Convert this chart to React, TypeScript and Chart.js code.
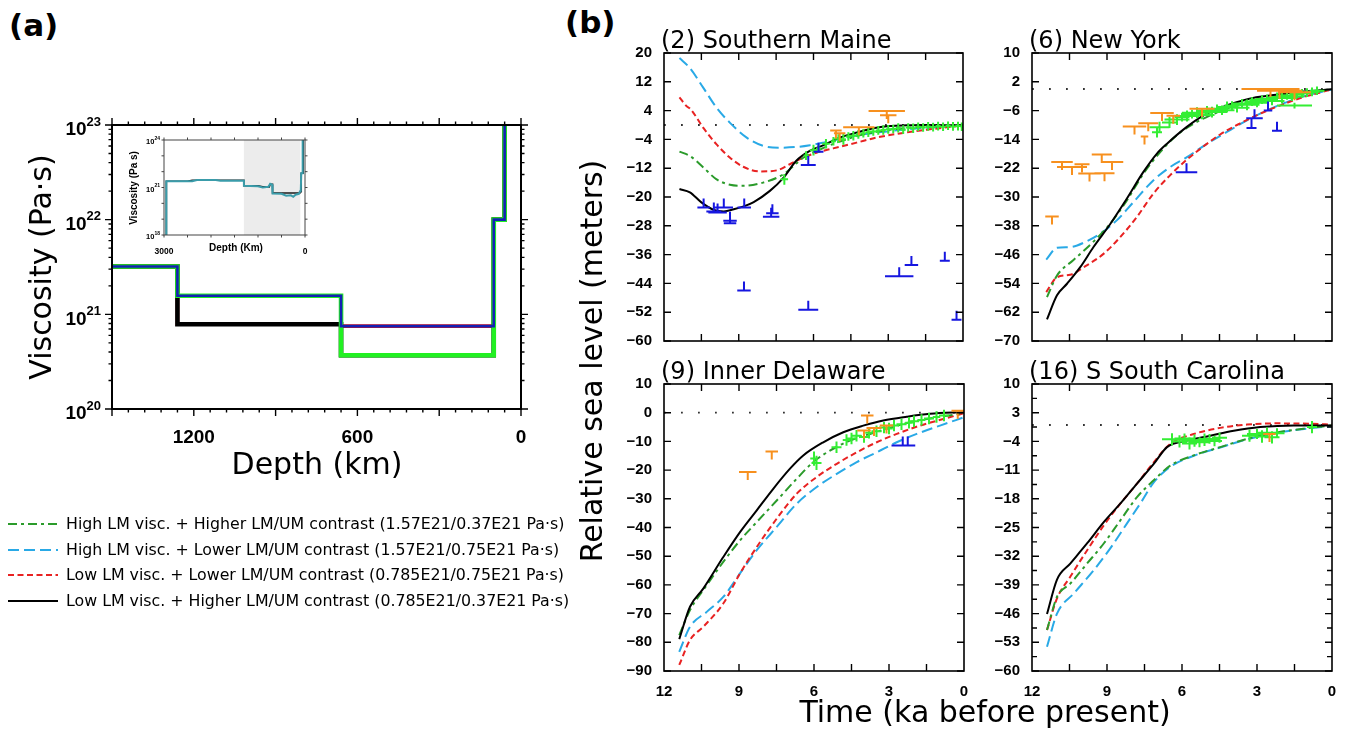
import React, { useEffect, useRef } from 'react';
import { Chart, registerables } from 'chart.js';
Chart.register(...registerables);

const SANS = "'DejaVu Sans', 'Noto Sans', sans-serif";
const HELV = "'Liberation Sans', Arial, sans-serif";

// ---------- colours / styles ----------
const C_GREEN = '#2b9b2b';
const C_BLUE = '#29a9e6';
const C_RED = '#e82222';
const C_BLACK = '#000000';
const C_IDX = '#33ee33';
const C_UPPER = '#f7901e';
const C_LOWER = '#1616e0';
const DASH_GREEN = [9, 4, 3, 4];
const DASH_BLUE = [11, 5];
const DASH_RED = [6, 3.5];

// ---------- panel (a): viscosity profiles ----------
const A_BOUNDS = [1500, 1260, 660, 100, 60]; // km
const A_SURFACE_VISC = 1e23;
const A_VISC_HIGH_HIGHER = [3.2e21, 1.57e21, 0.37e21, 1e22];
const A_VISC_HIGH_LOWER = [3.2e21, 1.57e21, 0.75e21, 1e22];
const A_VISC_LOW_LOWER = [3.2e21, 0.785e21, 0.75e21, 1e22];
const A_VISC_LOW_HIGHER = [3.2e21, 0.785e21, 0.37e21, 1e22];
const A_X_LABELS = [1200, 600, 0];
const A_Y_EXP = [20, 21, 22, 23];

// inset profile (depth km, viscosity)
const INSET_TEAL = [
  [2950, 1e18], [2950, 2.5e21], [2400, 2.5e21], [2300, 3.0e21], [1900, 3.0e21], [1800, 2.7e21],
  [1300, 2.7e21], [1300, 1.3e21], [1000, 1.2e21], [900, 1.0e21], [780, 1.1e21], [740, 1.7e21],
  [700, 1.5e21], [690, 4.2e20], [500, 4.0e20], [400, 3.0e20], [300, 3.2e20], [250, 2.6e20],
  [200, 3.5e20], [130, 4.0e20], [110, 5.5e20], [90, 6e20], [80, 8e21], [50, 8e21], [50, 1e24],
];
const INSET_BLACK = [
  [2950, 1e18], [2950, 2.5e21], [2500, 2.5e21], [2400, 2.9e21], [1300, 2.9e21], [1300, 1.3e21],
  [1000, 1.3e21], [900, 1.1e21], [760, 1.1e21], [740, 1.6e21], [690, 1.6e21], [690, 4.5e20],
  [110, 4.5e20], [110, 5.5e20], [80, 5.5e20], [80, 8e21], [40, 8e21], [40, 1e24],
];
const INSET_SHADE = [1300, 100];
const INSET_X_LABELS = [3000, 0];
const INSET_Y_EXP = [18, 21, 24];

// ---------- panel (b): relative sea level ----------
const B_X_LABELS = [12, 9, 6, 3, 0];
const B_X_TICK_MARKS = [10.5, 9, 7.5, 6, 4.5, 3, 1.5];
const ZERO_LINE_T = [12, 0];

// (2) Southern Maine
const ME_Y_TICKS = [20, 12, 4, -4, -12, -20, -28, -36, -44, -52, -60];
const ME_BLACK = [[11.38, -17.8], [10.96, -18.7], [10.5, -21.5], [10.0, -23.6], [9.6, -24.0], [9.2, -23.4], [8.8, -22.6], [8.4, -21.4], [7.75, -18.3], [7.2, -14.6], [6.7, -10.0], [6.15, -7.2], [5.6, -5.6], [4.95, -3.5], [4.25, -2.1], [3.6, -0.9], [2.95, -0.3], [2.25, -0.1], [1.6, 0], [0, -0.1]];
const ME_BLUE = [[11.38, 18.6], [10.96, 15.8], [10.42, 10.3], [9.89, 4.8], [9.35, 0.6], [8.68, -3.5], [8.02, -5.8], [7.35, -6.3], [6.68, -6.1], [6.14, -5.6], [5.61, -4.9], [4.81, -3.7], [4.01, -2.6], [2.94, -1.7], [1.6, -0.8], [0, -0.1]];
const ME_RED = [[11.38, 7.7], [11.09, 5.2], [10.96, 4.6], [10.42, -0.8], [9.89, -5.4], [9.35, -9.1], [8.82, -11.6], [8.15, -12.9], [7.48, -12.6], [6.95, -10.9], [6.41, -9.1], [5.88, -7.7], [5.21, -6.5], [4.27, -4.9], [3.47, -3.5], [2.4, -2.2], [1.33, -1.2], [0, -0.1]];
const ME_GREEN = [[11.38, -7.4], [10.96, -8.6], [10.42, -11.8], [9.89, -15.1], [9.35, -16.6], [8.82, -16.9], [8.02, -16.0], [7.21, -13.7], [6.41, -9.1], [5.74, -6.8], [5.07, -4.9], [4.27, -3.1], [3.47, -1.9], [2.4, -0.9], [1.06, -0.4], [0, -0.2]];
const ME_UPPER = [[3.06, 3.9, 0.73], [3.0, 2.7, 0.33], [5.1, -1.5, 0.23], [4.18, -0.6, 0.63], [4.95, -2.3, 0.23]];
const ME_LOWER = [[10.41, -22.9, 0.25], [10.0, -24.0, 0.3], [9.85, -24.3, 0.37], [9.6, -22.9, 0.37], [9.35, -26.6, 0.27], [9.35, -27.3, 0.25], [8.78, -22.9, 0.27], [7.7, -25.5, 0.33], [7.65, -24.5, 0.25], [8.79, -46.0, 0.27], [6.21, -51.3, 0.4], [6.21, -11.1, 0.3], [5.8, -7.4, 0.2], [2.56, -42.0, 0.57], [2.07, -38.9, 0.27], [0.73, -37.7, 0.2], [0.26, -54.1, 0.2]];
const ME_INDEX = [[7.17, -15.1, 0.15, 1.5], [6.3, -8.5, 0.1, 1.2], [6.0, -7.0, 0.15, 1.5], [5.8, -6.5, 0.1, 1.3], [5.5, -5.2, 0.15, 1.3], [5.2, -4.5, 0.1, 1.2], [5.0, -3.8, 0.15, 1.2], [4.8, -4.0, 0.1, 1.5], [4.6, -3.2, 0.1, 1.2], [4.4, -3.0, 0.15, 1.3], [4.2, -2.6, 0.1, 1.2], [4.0, -2.3, 0.1, 1.2], [3.8, -2.0, 0.1, 1.3], [3.6, -1.8, 0.15, 1.2], [3.4, -1.5, 0.1, 1.2], [3.2, -1.4, 0.1, 1.3], [3.0, -1.2, 0.1, 1.2], [2.8, -1.1, 0.1, 1.2], [2.6, -0.8, 0.1, 1.3], [2.4, -1.3, 0.1, 1.2], [2.2, -0.7, 0.1, 1.2], [2.0, -0.9, 0.1, 1.3], [1.8, -0.5, 0.1, 1.2], [1.6, -0.7, 0.1, 1.2], [1.4, -0.4, 0.1, 1.2], [1.2, -0.6, 0.1, 1.2], [1.0, -0.3, 0.1, 1.2], [0.8, -0.5, 0.1, 1.2], [0.6, -0.2, 0.1, 1.2], [0.4, -0.4, 0.1, 1.2], [0.2, -0.3, 0.1, 1.2], [0.05, -0.5, 0.05, 1.2]];

// (6) New York
const NY_Y_TICKS = [10, 2, -6, -14, -22, -30, -38, -46, -54, -62, -70];
const NY_BLACK = [[11.4, -64.0], [11.0, -57.3], [10.6, -54.1], [10.07, -49.5], [9.54, -43.9], [8.87, -37.5], [8.21, -30.5], [7.55, -23.1], [7.01, -18.0], [6.6, -15.2], [5.82, -10.6], [5.15, -7.4], [4.49, -5.3], [3.82, -3.7], [3.16, -2.5], [2.23, -1.6], [1.3, -0.8], [0, -0.1]];
const NY_GREEN = [[11.4, -57.8], [11.0, -51.8], [10.34, -47.5], [9.54, -42.4], [8.87, -37.4], [8.21, -31.0], [7.55, -23.6], [6.88, -17.6], [6.22, -12.9], [5.55, -9.7], [4.89, -7.4], [4.22, -5.5], [3.42, -4.0], [2.49, -2.5], [1.56, -1.4], [0, -0.1]];
const NY_RED = [[11.43, -56.4], [11.0, -52.3], [10.47, -51.6], [9.81, -49.0], [9.14, -45.8], [8.48, -41.2], [7.81, -35.6], [7.15, -29.1], [6.48, -24.0], [5.82, -19.7], [5.15, -16.0], [4.49, -12.7], [3.69, -9.6], [2.89, -6.9], [2.09, -4.6], [1.16, -2.3], [0, -0.1]];
const NY_BLUE = [[11.43, -47.4], [11.0, -44.1], [10.47, -43.9], [9.81, -42.3], [9.27, -40.2], [8.61, -36.5], [7.94, -31.4], [7.15, -25.4], [6.48, -21.7], [5.82, -19.0], [5.02, -15.3], [4.22, -12.0], [3.42, -8.8], [2.62, -6.0], [1.83, -3.7], [0.9, -1.6], [0, -0.1]];
const NY_UPPER = [[10.8, -20.3, 0.43], [10.4, -21.7, 0.6], [10.0, -20.9, 0.3], [9.7, -23.5, 0.45], [9.1, -23.4, 0.4], [9.21, -18.2, 0.4], [8.8, -20.3, 0.45], [11.2, -35.4, 0.27], [7.9, -10.4, 0.47], [7.35, -9.5, 0.4], [7.5, -13.2, 0.15], [6.8, -6.7, 0.47], [6.35, -7.4, 0.27], [5.2, -5.5, 0.5], [2.46, 0.0, 1.16], [2.1, -0.5, 0.9], [1.5, -0.9, 0.66]];
const NY_LOWER = [[5.82, -23.1, 0.43], [3.1, -8.1, 0.33], [3.22, -10.8, 0.2], [2.56, -6.0, 0.17], [2.2, -11.6, 0.2]];
const NY_INDEX = [[7.0, -12.0, 0.2, 1.5], [6.9, -10.6, 0.4, 1.5], [6.5, -9.3, 0.3, 1.5], [6.2, -8.5, 0.5, 1.5], [6.0, -7.8, 0.3, 1.2], [5.8, -7.5, 0.5, 1.5], [5.6, -7.0, 0.4, 1.2], [5.4, -6.6, 0.6, 1.5], [5.2, -7.2, 0.5, 1.2], [5.0, -6.0, 0.4, 1.3], [4.8, -6.4, 0.6, 1.5], [4.6, -5.5, 0.4, 1.2], [4.4, -5.9, 0.5, 1.3], [4.2, -5.0, 0.4, 1.5], [4.0, -4.6, 0.3, 1.2], [3.8, -5.2, 0.5, 1.3], [3.6, -4.0, 0.4, 1.2], [3.4, -4.4, 0.5, 1.5], [3.2, -3.5, 0.3, 1.2], [3.0, -3.8, 0.4, 1.3], [2.8, -3.0, 0.5, 1.2], [2.6, -2.8, 0.4, 1.3], [2.4, -3.3, 0.5, 1.2], [2.2, -2.2, 0.3, 1.2], [2.0, -2.5, 0.6, 1.5], [1.8, -1.8, 0.4, 1.2], [1.6, -2.0, 0.5, 1.3], [1.5, -4.6, 0.7, 0.8], [1.4, -1.4, 0.3, 1.2], [1.2, -1.2, 0.4, 1.2], [1.0, -1.0, 0.4, 1.2], [0.8, -0.8, 0.3, 1.2], [0.6, -0.5, 0.3, 1.2]];

// (9) Inner Delaware
const DE_Y_TICKS = [10, 0, -10, -20, -30, -40, -50, -60, -70, -80, -90];
const DE_BLACK = [[11.39, -78.9], [10.96, -67.6], [10.43, -61.3], [9.63, -50.3], [8.96, -41.6], [8.29, -34.0], [7.63, -26.5], [6.96, -19.5], [6.43, -14.9], [5.63, -10.3], [4.83, -6.8], [4.03, -4.5], [3.23, -2.7], [2.29, -1.4], [1.36, -0.4], [0, 0.2]];
const DE_GREEN = [[11.39, -77.5], [10.96, -68.8], [10.29, -60.1], [9.63, -52.0], [8.96, -44.5], [8.29, -38.1], [7.49, -30.6], [6.69, -23.0], [6.03, -17.2], [5.36, -13.2], [4.56, -9.7], [3.76, -7.4], [2.96, -5.3], [2.16, -3.3], [1.23, -1.8], [0, -0.2]];
const DE_RED = [[11.39, -87.9], [10.96, -79.2], [10.43, -74.6], [9.63, -66.5], [8.96, -56.0], [8.29, -46.8], [7.49, -36.9], [6.69, -28.2], [5.89, -22.4], [5.09, -17.8], [4.29, -13.8], [3.49, -10.3], [2.69, -7.4], [1.76, -4.5], [0.83, -2.2], [0, -0.2]];
const DE_BLUE = [[11.39, -83.3], [10.96, -74.6], [10.29, -69.4], [9.63, -64.2], [8.96, -56.0], [8.29, -47.9], [7.49, -39.8], [6.69, -31.7], [5.89, -25.9], [5.09, -21.3], [4.29, -17.2], [3.49, -13.8], [2.69, -10.3], [1.89, -7.4], [0.96, -4.5], [0, -1.6]];
const DE_UPPER = [[8.65, -20.7, 0.35], [7.69, -13.5, 0.25], [3.87, -1.0, 0.25], [4.0, -6.2, 0.27], [3.6, -5.3, 0.3], [3.1, -4.5, 0.27], [0.25, 0.7, 0.25]];
const DE_LOWER = [[2.45, -11.4, 0.45], [2.25, -11.4, 0.3]];
const DE_INDEX = [[6.0, -16.0, 0.15, 2.5], [5.9, -17.5, 0.2, 2.5], [5.1, -12.0, 0.2, 2.0], [4.7, -9.5, 0.15, 2.0], [4.5, -9.0, 0.2, 2.0], [4.3, -8.0, 0.2, 2.0], [4.0, -8.5, 0.2, 2.0], [3.8, -7.0, 0.15, 2.0], [3.5, -6.5, 0.2, 2.0], [3.2, -5.2, 0.2, 2.0], [3.0, -5.5, 0.15, 2.0], [2.8, -4.5, 0.2, 2.0], [2.5, -4.0, 0.2, 2.0], [2.2, -3.5, 0.15, 2.0], [2.0, -3.0, 0.2, 2.0], [1.7, -2.5, 0.15, 2.0], [1.4, -2.0, 0.2, 2.0], [1.1, -1.5, 0.15, 2.0], [0.8, -1.0, 0.2, 2.0]];

// (16) S South Carolina
const SC_Y_TICKS = [10, 3, -4, -11, -18, -25, -32, -39, -46, -53, -60];
const SC_Y_MINOR = [6.5, -0.5, -7.5, -14.5, -21.5, -28.5, -35.5, -42.5, -49.5, -56.5];
const SC_BLACK = [[11.4, -46.1], [11.0, -37.7], [10.47, -33.8], [9.8, -28.9], [9.13, -23.7], [8.47, -19.2], [7.8, -14.3], [7.13, -9.5], [6.6, -5.4], [5.8, -3.8], [4.87, -2.6], [3.93, -1.4], [2.87, -0.5], [1.53, -0.1], [0, -0.1]];
const SC_RED = [[11.4, -50.0], [11.0, -42.3], [10.47, -37.0], [9.8, -30.6], [9.13, -24.5], [8.47, -19.2], [7.8, -14.3], [7.13, -9.1], [6.47, -4.6], [5.53, -2.2], [4.47, -0.7], [3.4, 0.1], [2.2, 0.4], [0.87, 0.3], [0, 0.1]];
const SC_GREEN = [[11.4, -50.0], [11.0, -41.9], [10.47, -38.7], [9.8, -33.8], [9.13, -28.9], [8.47, -23.3], [7.8, -17.6], [7.13, -13.5], [6.47, -9.9], [5.53, -7.4], [4.47, -5.4], [3.4, -3.4], [2.2, -1.8], [0.87, -0.7], [0, -0.1]];
const SC_BLUE = [[11.4, -54.1], [11.0, -46.0], [10.33, -41.1], [9.53, -35.4], [8.87, -30.1], [8.2, -24.0], [7.6, -18.5], [7.13, -14.0], [6.47, -10.2], [5.53, -7.5], [4.47, -5.5], [3.4, -3.5], [2.2, -1.9], [0.87, -0.8], [0, -0.3]];
const SC_UPPER = [[2.5, -2.2, 0.25]];
const SC_LOWER: number[][] = [];
const SC_INDEX = [[6.4, -3.5, 0.4, 1.5], [6.1, -4.0, 0.3, 1.5], [5.9, -3.3, 0.4, 1.2], [5.7, -4.5, 0.3, 1.5], [5.5, -3.8, 0.5, 1.5], [5.3, -4.2, 0.4, 1.2], [5.1, -3.6, 0.3, 1.5], [4.9, -3.4, 0.4, 1.2], [4.7, -3.9, 0.3, 1.3], [4.5, -3.1, 0.3, 1.2], [3.3, -2.6, 0.3, 1.5], [3.0, -2.2, 0.4, 1.2], [2.8, -2.8, 0.3, 1.5], [2.6, -1.9, 0.4, 1.3], [2.4, -3.0, 0.3, 1.5], [2.2, -2.0, 0.3, 1.2], [0.8, -0.5, 0.2, 1.5]];

// ---------- legend ----------
const LEGEND_LABELS = [
  'High LM visc. + Higher LM/UM contrast (1.57E21/0.37E21 Pa·s)',
  'High LM visc. + Lower LM/UM contrast (1.57E21/0.75E21 Pa·s)',
  'Low LM visc. + Lower LM/UM contrast (0.785E21/0.75E21 Pa·s)',
  'Low LM visc. + Higher LM/UM contrast (0.785E21/0.37E21 Pa·s)',
];
const LEGEND_COLORS = [C_GREEN, C_BLUE, C_RED, C_BLACK];
const LEGEND_DASH = [DASH_GREEN, DASH_BLUE, DASH_RED, []];

// ---------- helpers ----------
const fmtNum = (v: number) => (v < 0 ? '\u2212' + Math.abs(v) : String(v));

function ChartBox(props: { left: number; top: number; width: number; height: number; make: () => any }) {
  const ref = useRef<HTMLCanvasElement>(null);
  useEffect(() => {
    const chart = new Chart(ref.current as HTMLCanvasElement, props.make());
    return () => chart.destroy();
  }, []);
  return (
    <canvas
      ref={ref}
      width={props.width}
      height={props.height}
      style={{ position: 'absolute', left: props.left, top: props.top, width: props.width, height: props.height }}
    />
  );
}

function stepPoints(visc: number[]) {
  const pts: { x: number; y: number }[] = [];
  for (let i = 0; i < visc.length; i++) {
    pts.push({ x: A_BOUNDS[i], y: visc[i] });
    pts.push({ x: A_BOUNDS[i + 1], y: visc[i] });
  }
  pts.push({ x: A_BOUNDS[A_BOUNDS.length - 1], y: A_SURFACE_VISC });
  return pts;
}

function drawPow(ctx: CanvasRenderingContext2D, e: number, xr: number, py: number, big: number, small: number, dy1: number, dy2: number) {
  ctx.font = `bold ${small}px ${HELV}`;
  const sup = String(e);
  const sw = ctx.measureText(sup).width;
  ctx.textAlign = 'left';
  ctx.textBaseline = 'middle';
  ctx.fillText(sup, xr - sw, py + dy2);
  ctx.font = `bold ${big}px ${HELV}`;
  ctx.textAlign = 'right';
  ctx.fillText('10', xr - sw, py + dy1);
}

function configA() {
  const ds = (visc: number[], color: string, w: number) => ({
    data: stepPoints(visc), borderColor: color, borderWidth: w, pointRadius: 0, fill: false, tension: 0,
  });
  const frameA = {
    id: 'frameA',
    afterDraw(chart: any) {
      const { ctx, chartArea: a, scales } = chart;
      const x = scales.x, y = scales.y;
      ctx.save();
      ctx.strokeStyle = '#000';
      ctx.lineWidth = 2;
      ctx.strokeRect(a.left, a.top, a.right - a.left, a.bottom - a.top);
      ctx.lineWidth = 1.4;
      ctx.beginPath();
      for (let d = 0; d <= 1500; d += 60) {
        const px = x.getPixelForValue(d);
        const len = d % 300 === 0 ? 7 : 3.5;
        ctx.moveTo(px, a.bottom); ctx.lineTo(px, a.bottom + len);
        ctx.moveTo(px, a.top); ctx.lineTo(px, a.top - len);
      }
      for (const e of A_Y_EXP) {
        for (let m = 1; m <= 9; m++) {
          if (e === 23 && m > 1) break;
          const py = y.getPixelForValue(m * Math.pow(10, e));
          const len = m === 1 ? 7 : 3.5;
          ctx.moveTo(a.left, py); ctx.lineTo(a.left - len, py);
          ctx.moveTo(a.right, py); ctx.lineTo(a.right + len, py);
        }
      }
      ctx.stroke();
      ctx.fillStyle = '#000';
      for (const e of A_Y_EXP) {
        drawPow(ctx, e, a.left - 11, y.getPixelForValue(Math.pow(10, e)), 19, 13, 5, -3);
      }
      ctx.restore();
    },
  };
  return {
    type: 'line',
    data: {
      datasets: [
        ds(A_VISC_HIGH_LOWER, '#1420b4', 2.6),
        ds(A_VISC_HIGH_HIGHER, '#22f022', 4.6),
        ds(A_VISC_LOW_HIGHER, '#000000', 4.6),
        ds(A_VISC_LOW_LOWER, '#e01010', 3.6),
      ],
    },
    options: {
      animation: false, responsive: false, devicePixelRatio: 1,
      layout: { padding: { left: 0, top: 25, right: 24, bottom: 0 } },
      plugins: { legend: { display: false }, tooltip: { enabled: false } },
      scales: {
        x: {
          type: 'linear', min: 0, max: 1500, reverse: true,
          grid: { display: false }, border: { display: false },
          afterBuildTicks: (sc: any) => { sc.ticks = A_X_LABELS.map((v) => ({ value: v })); },
          afterFit: (sc: any) => { sc.height = 51; },
          ticks: { color: '#000', font: { family: HELV, weight: 'bold', size: 19 }, padding: 9, maxRotation: 0, autoSkip: false, callback: (v: any) => String(v) },
        },
        y: {
          type: 'logarithmic', min: 1e20, max: 1e23,
          grid: { display: false }, border: { display: false },
          afterFit: (sc: any) => { sc.width = 112; },
          ticks: { display: false },
        },
      },
    },
    plugins: [frameA],
  };
}

function configInset() {
  const ds = (pts: number[][], color: string, w: number) => ({
    data: pts.map(([x, y]) => ({ x, y })), borderColor: color, borderWidth: w, pointRadius: 0, fill: false, tension: 0,
  });
  const shade = {
    id: 'shade',
    beforeDatasetsDraw(chart: any) {
      const { ctx, chartArea: a, scales } = chart;
      const x1 = scales.x.getPixelForValue(INSET_SHADE[0]);
      const x2 = scales.x.getPixelForValue(INSET_SHADE[1]);
      ctx.save();
      ctx.fillStyle = '#ececec';
      ctx.fillRect(x1, a.top, x2 - x1, a.bottom - a.top);
      ctx.restore();
    },
    afterDraw(chart: any) {
      const { ctx, chartArea: a, scales } = chart;
      const x = scales.x, y = scales.y;
      ctx.save();
      ctx.strokeStyle = '#444';
      ctx.lineWidth = 1;
      ctx.strokeRect(a.left, a.top, a.right - a.left, a.bottom - a.top);
      ctx.beginPath();
      for (let d = 0; d <= 3000; d += 500) {
        const px = x.getPixelForValue(d);
        ctx.moveTo(px, a.bottom); ctx.lineTo(px, a.bottom + 2.5);
        ctx.moveTo(px, a.top); ctx.lineTo(px, a.top - 2.5);
      }
      for (let e = 18; e <= 24; e++) {
        const py = y.getPixelForValue(Math.pow(10, e));
        ctx.moveTo(a.left, py); ctx.lineTo(a.left - 2.5, py);
        ctx.moveTo(a.right, py); ctx.lineTo(a.right + 2.5, py);
      }
      ctx.stroke();
      ctx.fillStyle = '#000';
      for (const e of INSET_Y_EXP) {
        drawPow(ctx, e, a.left - 4, y.getPixelForValue(Math.pow(10, e)), 7.5, 5, 2, -1.5);
      }
      ctx.restore();
    },
  };
  return {
    type: 'line',
    data: { datasets: [ds(INSET_TEAL, '#3a9caa', 2), ds(INSET_BLACK, '#1a1a1a', 1.6)] },
    options: {
      animation: false, responsive: false, devicePixelRatio: 1,
      layout: { padding: { left: 0, top: 10, right: 10, bottom: 0 } },
      plugins: { legend: { display: false }, tooltip: { enabled: false } },
      scales: {
        x: {
          type: 'linear', min: 0, max: 3000, reverse: true,
          grid: { display: false }, border: { display: false },
          afterBuildTicks: (sc: any) => { sc.ticks = INSET_X_LABELS.map((v) => ({ value: v })); },
          afterFit: (sc: any) => { sc.height = 25; },
          ticks: { color: '#000', font: { family: HELV, weight: 'bold', size: 8.5 }, padding: 4, maxRotation: 0, autoSkip: false, callback: (v: any) => String(v) },
        },
        y: {
          type: 'logarithmic', min: 1e18, max: 1e24,
          grid: { display: false }, border: { display: false },
          afterFit: (sc: any) => { sc.width = 44; },
          ticks: { display: false },
        },
      },
    },
    plugins: [shade],
  };
}

interface SubSpec {
  area: { l: number; t: number; r: number; b: number };
  yMin: number; yMax: number; yTicks: number[]; yMinor: number[]; bottom: boolean;
  black: number[][]; green: number[][]; red: number[][]; blue: number[][];
  upper: number[][]; lower: number[][]; index: number[][];
}

function configSub(s: SubSpec) {
  const line = (pts: number[][], color: string, dash: number[]) => ({
    data: pts.map(([x, y]) => ({ x, y })), borderColor: color, borderWidth: 2, borderDash: dash,
    pointRadius: 0, fill: false, cubicInterpolationMode: 'monotone',
  });
  const frame = {
    id: 'frameB',
    afterDraw(chart: any) {
      const { ctx, chartArea: a, scales } = chart;
      const x = scales.x, y = scales.y;
      ctx.save();
      ctx.strokeStyle = '#000';
      ctx.lineWidth = 1.6;
      ctx.strokeRect(a.left, a.top, a.right - a.left, a.bottom - a.top);
      ctx.lineWidth = 1.4;
      ctx.beginPath();
      for (const t of B_X_TICK_MARKS) {
        const px = x.getPixelForValue(t);
        ctx.moveTo(px, a.bottom); ctx.lineTo(px, a.bottom - 7);
        ctx.moveTo(px, a.top); ctx.lineTo(px, a.top + 7);
      }
      for (const v of s.yTicks) {
        const py = y.getPixelForValue(v);
        ctx.moveTo(a.left, py); ctx.lineTo(a.left + 7, py);
        ctx.moveTo(a.right, py); ctx.lineTo(a.right - 7, py);
      }
      for (const v of s.yMinor) {
        const py = y.getPixelForValue(v);
        ctx.moveTo(a.left, py); ctx.lineTo(a.left + 5, py);
        ctx.moveTo(a.right, py); ctx.lineTo(a.right - 5, py);
      }
      ctx.stroke();
      ctx.restore();
    },
  };
  const markers = {
    id: 'markersB',
    afterDatasetsDraw(chart: any) {
      const { ctx, chartArea: a, scales } = chart;
      const x = scales.x, y = scales.y;
      ctx.save();
      ctx.beginPath();
      ctx.rect(a.left, a.top, a.right - a.left, a.bottom - a.top);
      ctx.clip();
      ctx.lineWidth = 2;
      ctx.lineCap = 'butt';
      ctx.strokeStyle = C_IDX;
      ctx.beginPath();
      for (const [t, v, dt, dv] of s.index) {
        const pc = x.getPixelForValue(t), py = y.getPixelForValue(v);
        ctx.moveTo(x.getPixelForValue(t + dt), py); ctx.lineTo(x.getPixelForValue(t - dt), py);
        ctx.moveTo(pc, y.getPixelForValue(v + dv)); ctx.lineTo(pc, y.getPixelForValue(v - dv));
      }
      ctx.stroke();
      ctx.strokeStyle = C_UPPER;
      ctx.beginPath();
      for (const [t, v, dt] of s.upper) {
        const pc = x.getPixelForValue(t), py = y.getPixelForValue(v);
        ctx.moveTo(x.getPixelForValue(t + dt), py); ctx.lineTo(x.getPixelForValue(t - dt), py);
        ctx.moveTo(pc, py); ctx.lineTo(pc, py + 8);
      }
      ctx.stroke();
      ctx.strokeStyle = C_LOWER;
      ctx.beginPath();
      for (const [t, v, dt] of s.lower) {
        const pc = x.getPixelForValue(t), py = y.getPixelForValue(v);
        ctx.moveTo(x.getPixelForValue(t + dt), py); ctx.lineTo(x.getPixelForValue(t - dt), py);
        ctx.moveTo(pc, py); ctx.lineTo(pc, py - 9);
      }
      ctx.stroke();
      ctx.restore();
    },
  };
  const tickFont = { family: HELV, weight: 'bold', size: 15 };
  return {
    type: 'line',
    data: {
      datasets: [
        line(s.black, C_BLACK, []),
        line(s.green, C_GREEN, DASH_GREEN),
        line(s.red, C_RED, DASH_RED),
        line(s.blue, C_BLUE, DASH_BLUE),
        {
          data: ZERO_LINE_T.map((t) => ({ x: t, y: 0 })), borderColor: '#333', borderWidth: 1.8,
          borderDash: [1.8, 15.2], pointRadius: 0, fill: false, tension: 0,
        },
      ],
    },
    options: {
      animation: false, responsive: false, devicePixelRatio: 1,
      layout: { padding: { left: 0, top: 12, right: 14, bottom: 0 } },
      plugins: { legend: { display: false }, tooltip: { enabled: false } },
      scales: {
        x: {
          type: 'linear', min: 0, max: 12, reverse: true,
          grid: { display: false }, border: { display: false },
          afterBuildTicks: (sc: any) => { sc.ticks = B_X_LABELS.map((v) => ({ value: v })); },
          afterFit: (sc: any) => { sc.height = s.bottom ? 32 : 14; },
          ticks: { display: s.bottom, color: '#000', font: tickFont, padding: 4, maxRotation: 0, autoSkip: false, callback: (v: any) => String(v) },
        },
        y: {
          type: 'linear', min: s.yMin, max: s.yMax,
          grid: { display: false }, border: { display: false },
          afterBuildTicks: (sc: any) => { sc.ticks = s.yTicks.map((v) => ({ value: v })); },
          afterFit: (sc: any) => { sc.width = 62; },
          ticks: { color: '#000', font: tickFont, padding: 4, autoSkip: false, callback: (v: any) => fmtNum(Number(v)) },
        },
      },
    },
    plugins: [markers, frame],
  };
}

const SUBPLOTS: { title: string; spec: SubSpec }[] = [
  {
    title: '(2) Southern Maine',
    spec: { area: { l: 664, t: 52, r: 963, b: 341 }, yMin: -60, yMax: 20, yTicks: ME_Y_TICKS, yMinor: [], bottom: false,
      black: ME_BLACK, green: ME_GREEN, red: ME_RED, blue: ME_BLUE, upper: ME_UPPER, lower: ME_LOWER, index: ME_INDEX },
  },
  {
    title: '(6) New York',
    spec: { area: { l: 1032, t: 52, r: 1332, b: 341 }, yMin: -70, yMax: 10, yTicks: NY_Y_TICKS, yMinor: [], bottom: false,
      black: NY_BLACK, green: NY_GREEN, red: NY_RED, blue: NY_BLUE, upper: NY_UPPER, lower: NY_LOWER, index: NY_INDEX },
  },
  {
    title: '(9) Inner Delaware',
    spec: { area: { l: 664, t: 383, r: 964, b: 671 }, yMin: -90, yMax: 10, yTicks: DE_Y_TICKS, yMinor: [], bottom: true,
      black: DE_BLACK, green: DE_GREEN, red: DE_RED, blue: DE_BLUE, upper: DE_UPPER, lower: DE_LOWER, index: DE_INDEX },
  },
  {
    title: '(16) S South Carolina',
    spec: { area: { l: 1032, t: 383, r: 1332, b: 671 }, yMin: -60, yMax: 10, yTicks: SC_Y_TICKS, yMinor: SC_Y_MINOR, bottom: true,
      black: SC_BLACK, green: SC_GREEN, red: SC_RED, blue: SC_BLUE, upper: SC_UPPER, lower: SC_LOWER, index: SC_INDEX },
  },
];

function Text(props: { left: number; top: number; size: number; bold?: boolean; family?: string; children: any }) {
  return (
    <div style={{
      position: 'absolute', left: props.left, top: props.top, fontSize: props.size, lineHeight: `${props.size}px`,
      fontFamily: props.family || SANS, fontWeight: props.bold ? 'bold' : 'normal', whiteSpace: 'nowrap', color: '#000',
    }}>{props.children}</div>
  );
}

function VText(props: { cx: number; cy: number; size: number; bold?: boolean; family?: string; children: any }) {
  const W = 500, H = props.size * 1.2;
  return (
    <div style={{
      position: 'absolute', left: props.cx - W / 2, top: props.cy - H / 2, width: W, height: H, lineHeight: `${H}px`,
      textAlign: 'center', transform: 'rotate(-90deg)', fontSize: props.size, fontFamily: props.family || SANS,
      fontWeight: props.bold ? 'bold' : 'normal', whiteSpace: 'nowrap', color: '#000',
    }}>{props.children}</div>
  );
}

function HText(props: { cx: number; top: number; size: number; bold?: boolean; family?: string; children: any }) {
  const W = 600;
  return (
    <div style={{
      position: 'absolute', left: props.cx - W / 2, top: props.top, width: W, textAlign: 'center',
      fontSize: props.size, lineHeight: `${props.size}px`, fontFamily: props.family || SANS,
      fontWeight: props.bold ? 'bold' : 'normal', whiteSpace: 'nowrap', color: '#000',
    }}>{props.children}</div>
  );
}

export default function App() {
  return (
    <div style={{ position: 'absolute', left: 0, top: 0, width: 1349, height: 730, background: '#fff', overflow: 'hidden' }}>
      {/* panel (a) */}
      <Text left={9} top={10} size={31} bold>(a)</Text>
      <ChartBox left={0} top={100} width={545} height={360} make={configA} />
      <ChartBox left={120} top={130} width={195} height={130} make={configInset} />
      <VText cx={134} cy={188} size={10} bold family={HELV}>Viscosity (Pa s)</VText>
      <HText cx={236} top={243} size={10} bold family={HELV}>Depth (Km)</HText>
      <VText cx={41} cy={267} size={30}>Viscosity (Pa·s)</VText>
      <HText cx={317} top={449} size={30}>Depth (km)</HText>
      {LEGEND_LABELS.map((lab, i) => (
        <div key={i} style={{ position: 'absolute', left: 0, top: 512 + i * 25.7, height: 24, width: 620 }}>
          <svg width={62} height={24} style={{ position: 'absolute', left: 0, top: 0 }}>
            <line x1={8} y1={12} x2={58} y2={12} stroke={LEGEND_COLORS[i]} strokeWidth={2}
              strokeDasharray={LEGEND_DASH[i].length ? LEGEND_DASH[i].join(',') : undefined} />
          </svg>
          <div style={{ position: 'absolute', left: 66, top: 3, fontSize: 15.8, lineHeight: '18px', fontFamily: SANS, whiteSpace: 'nowrap' }}>{lab}</div>
        </div>
      ))}

      {/* panel (b) */}
      <Text left={565} top={7} size={31} bold>(b)</Text>
      {SUBPLOTS.map((sp, i) => {
        const a = sp.spec.area;
        const h = a.b - a.t + 12 + (sp.spec.bottom ? 32 : 14);
        return (
          <React.Fragment key={i}>
            <ChartBox left={a.l - 62} top={a.t - 12} width={a.r - a.l + 76} height={h} make={() => configSub(sp.spec)} />
            <Text left={a.l - 3} top={a.t - 24} size={24}>{sp.title}</Text>
          </React.Fragment>
        );
      })}
      <VText cx={592} cy={361} size={30}>Relative sea level (meters)</VText>
      <HText cx={985} top={697} size={30}>Time (ka before present)</HText>
    </div>
  );
}
